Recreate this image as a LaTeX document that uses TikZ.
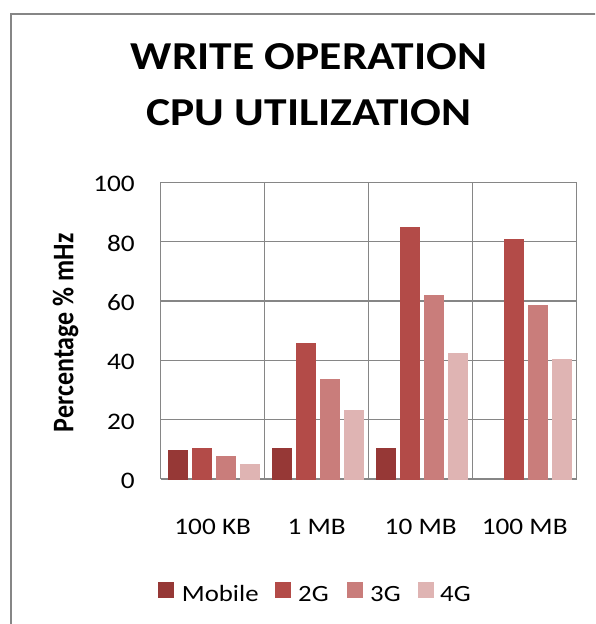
\documentclass[tikz,border=0pt]{standalone}
\usepackage{fontspec}
\usepackage{graphicx}
\setmainfont{Carlito}[FakeStretch=1.15]
\newfontfamily\plainfont{Carlito}
\definecolor{cMob}{RGB}{150,56,54}
\definecolor{cTwo}{RGB}{179,75,72}
\definecolor{cThree}{RGB}{201,125,123}
\definecolor{cFour}{RGB}{223,180,179}
\definecolor{gridgrey}{RGB}{134,134,134}
\tikzset{
  ser0/.style={fill=cMob},
  ser1/.style={fill=cTwo},
  ser2/.style={fill=cThree},
  ser3/.style={fill=cFour},
  gridline/.style={draw=gridgrey,line width=1.2pt},
  framebox/.style={draw=gridgrey,line width=1.5pt},
  ticklabel/.style={anchor=base east,inner sep=0pt,font=\fontsize{23.7}{24}\selectfont},
  catlabel/.style={anchor=base,inner sep=0pt,font=\fontsize{23.7}{24}\selectfont},
  legendtext/.style={anchor=base west,inner sep=0pt,font=\fontsize{23.3}{24}\selectfont},
  titletext/.style={anchor=base,inner sep=0pt,font=\fontsize{39.6}{40}\selectfont\bfseries},
}
\begin{document}
\begin{tikzpicture}[x=1pt,y=-1pt]
\useasboundingbox (0,0) rectangle (595,624);
\fill[white] (0,0) rectangle (595,624);
\clip (0,0) rectangle (595,624);
% chart frame, running off the right and bottom edges
\draw[framebox] (11,14) rectangle (610,640);
% title
\node[titletext] (title1) at (309,69) {WRITE OPERATION};
\node[titletext] (title2) at (309,125) {CPU UTILIZATION};
% horizontal grid lines and value labels
\foreach \v in {0,20,...,100}{
  \draw[gridline] (160.7,{479-2.967*\v}) -- (576.7,{479-2.967*\v});
  \node[ticklabel] (tick\v) at (135,{479-2.967*\v+9.4}) {\v};
}
% vertical grid lines
\foreach \k in {0,...,4}{
  \draw[gridline] ({160.7+104*\k},182.3) -- ({160.7+104*\k},479);
}
% bars: group / series / value
\foreach \g/\s/\v in {0/0/9.8,0/1/10.4,0/2/7.8,0/3/5.1,
                      1/0/10.4,1/1/45.8,1/2/33.7,1/3/23.3,
                      2/0/10.4,2/1/84.9,2/2/62,2/3/42.5,
                      3/1/80.9,3/2/58.6,3/3/40.4}{
  \fill[ser\s] ({160.7+104*\g+7+24*\s},479.5) rectangle ({160.7+104*\g+27+24*\s},{479-2.967*\v});
}
% category labels
\node[catlabel] (cat1) at (212.7,534) {100 KB};
\node[catlabel] (cat2) at (316.7,534) {1 MB};
\node[catlabel] (cat3) at (420.7,534) {10 MB};
\node[catlabel] (cat4) at (524.7,534) {100 MB};
% axis title
\node[rotate=90,anchor=base,inner sep=0pt] (ytitle) at (73.3,332.8)
  {\scalebox{1}[1.15]{\plainfont\bfseries\fontsize{26}{26}\selectfont Percentage \% mHz}};
% legend
\fill[ser0] (158.3,582.3) rectangle ++(15.5,15.5);
\node[legendtext] (legMob) at (181.7,601.7) {Mobile};
\fill[ser1] (275,582.3) rectangle ++(15.5,15.5);
\node[legendtext] (leg2G) at (298,601.7) {2G};
\fill[ser2] (347.3,582.3) rectangle ++(15.5,15.5);
\node[legendtext] (leg3G) at (370,601.7) {3G};
\fill[ser3] (418.3,582.3) rectangle ++(15.5,15.5);
\node[legendtext] (leg4G) at (440,601.7) {4G};
\end{tikzpicture}
\end{document}
